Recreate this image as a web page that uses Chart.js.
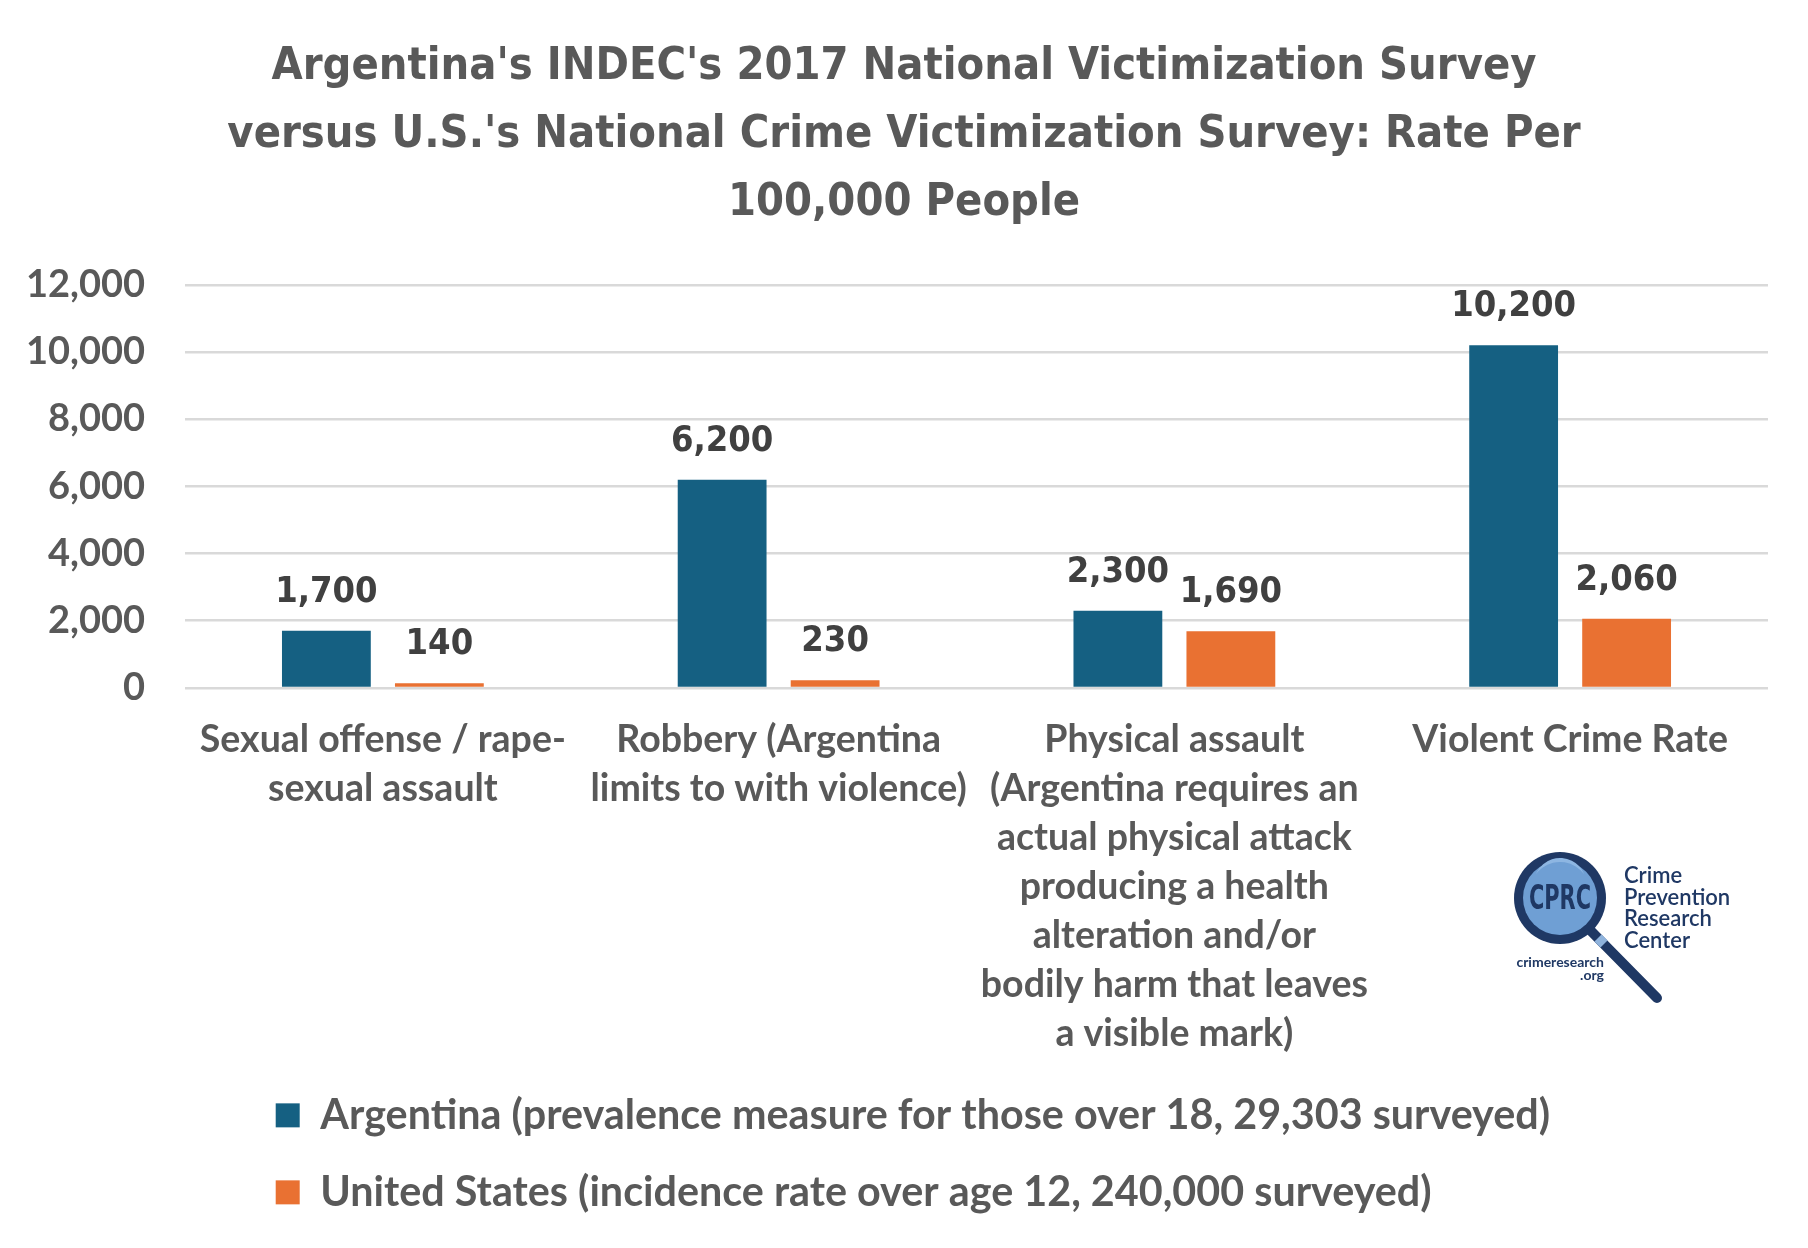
<!DOCTYPE html>
<html>
<head>
<meta charset="utf-8">
<script src="https://cdn.jsdelivr.net/npm/chart.js@4.4.1/dist/chart.umd.min.js"></script>
<style>
  html, body { margin: 0; padding: 0; background: #fff; }
  #wrap { width: 1808px; height: 1248px; position: relative; }
</style>
</head>
<body>
<div id="wrap"><canvas id="chart"></canvas></div>
<script>
// data
const categories = [
  ['Sexual offense / rape-', 'sexual assault'],
  ['Robbery (Argentina', 'limits to with violence)'],
  ['Physical assault', '(Argentina requires an', 'actual physical attack', 'producing a health', 'alteration and/or', 'bodily harm that leaves', 'a visible mark)'],
  ['Violent Crime Rate']
]
const argentina = [1700, 6200, 2300, 10200]
const unitedStates = [140, 230, 1690, 2060]
const seriesNames = [
  'Argentina (prevalence measure for those over 18, 29,303 surveyed)',
  'United States (incidence rate over age 12, 240,000 surveyed)'
]
const yTicks = [0, 2000, 4000, 6000, 8000, 10000, 12000]
const titleLines = [
  "Argentina's INDEC's 2017 National Victimization Survey",
  "versus U.S.'s National Crime Victimization Survey: Rate Per",
  '100,000 People'
]

// styles
const grey = '#595959'
const narrow = '"Liberation Sans Narrow", "DejaVu Sans Condensed", sans-serif'
const bodyFont = 'Lato, "Open Sans", sans-serif'
const navy = '#1f3864'

// value labels above bars
const barValueLabels = {
  id: 'barValueLabels',
  afterDatasetsDraw(chart) {
    const ctx = chart.ctx
    ctx.save()
    ctx.font = 'bold 36px ' + narrow
    ctx.fillStyle = '#404040'
    ctx.textAlign = 'center'
    ctx.textBaseline = 'alphabetic'
    chart.data.datasets.forEach((ds, i) => {
      chart.getDatasetMeta(i).data.forEach((bar, j) => {
        ctx.fillText(ds.data[j].toLocaleString('en-US'), bar.x, bar.y - 29)
      })
    })
    ctx.restore()
  }
}

// move the legend and title a bit, like the original layout
const blockShift = {
  id: 'blockShift',
  afterLayout(chart) {
    const lg = chart.legend
    lg.left += 240
    lg.right += 240
    lg.top -= 26
    lg.bottom -= 26
    const tb = chart.titleBlock
    tb.left += 20
    tb.right += 20
  }
}

// CPRC logo, bottom right
const cprcLogo = {
  id: 'cprcLogo',
  afterDraw(chart) {
    const ctx = chart.ctx
    const cx = 1560, cy = 898
    ctx.save()
    ctx.lineCap = 'round'
    ctx.strokeStyle = navy
    ctx.lineWidth = 10
    ctx.beginPath()
    ctx.moveTo(cx + 30, cy + 32)
    ctx.lineTo(cx + 97, cy + 100)
    ctx.stroke()
    ctx.lineCap = 'butt'
    ctx.strokeStyle = '#8fb3dc'
    ctx.beginPath()
    ctx.moveTo(cx + 38, cy + 40)
    ctx.lineTo(cx + 44, cy + 46)
    ctx.stroke()
    ctx.fillStyle = navy
    ctx.beginPath()
    ctx.arc(cx, cy, 46, 0, Math.PI * 2)
    ctx.fill()
    ctx.fillStyle = '#6f9fd4'
    ctx.beginPath()
    ctx.arc(cx, cy, 37, 0, Math.PI * 2)
    ctx.fill()
    ctx.fillStyle = '#8db6e2'
    ctx.beginPath()
    ctx.arc(cx, cy - 14, 26, Math.PI * 1.15, Math.PI * 1.85)
    ctx.arc(cx, cy - 6, 30, Math.PI * 1.8, Math.PI * 1.2, true)
    ctx.fill()
    ctx.fillStyle = navy
    ctx.textAlign = 'center'
    ctx.textBaseline = 'middle'
    ctx.font = 'bold 34px ' + narrow
    ctx.fillText('CPRC', cx, cy + 2, 62)
    ctx.textAlign = 'left'
    ctx.textBaseline = 'alphabetic'
    ctx.font = '600 22px ' + bodyFont
    ;['Crime', 'Prevention', 'Research', 'Center'].forEach((t, i) => {
      ctx.fillText(t, 1624, 883 + i * 21.5)
    })
    ctx.textAlign = 'right'
    ctx.font = 'bold 14px ' + bodyFont
    ctx.fillText('crimeresearch', 1604, 967)
    ctx.fillText('.org', 1604, 980)
    ctx.restore()
  }
}

const ctx = document.getElementById('chart').getContext('2d')

const chart = new Chart(ctx, {
  type: 'bar',
  data: {
    labels: categories,
    datasets: [
      { label: seriesNames[0], data: argentina, backgroundColor: '#156082' },
      { label: seriesNames[1], data: unitedStates, backgroundColor: '#e97132' }
    ]
  },
  options: {
    responsive: true,
    maintainAspectRatio: false,
    animation: false,
    layout: { padding: { left: 0, right: 40, top: 0, bottom: -1 } },
    datasets: {
      bar: { categoryPercentage: 0.571, barPercentage: 0.786 }
    },
    scales: {
      x: {
        grid: { display: false, drawTicks: false },
        border: { display: false },
        ticks: {
          color: grey,
          font: { family: bodyFont, weight: 'bold', size: 37.5, lineHeight: 1.307 },
          padding: 27,
          maxRotation: 0,
          autoSkip: false
        }
      },
      y: {
        min: yTicks[0],
        max: yTicks[yTicks.length - 1],
        afterFit(scale) { scale.width = 185 },
        grid: { color: '#d9d9d9', lineWidth: 2.5, drawTicks: false },
        border: { display: false },
        ticks: {
          stepSize: yTicks[1] - yTicks[0],
          color: grey,
          padding: 40,
          font: { family: bodyFont, weight: 'bold', size: 38 },
          callback: v => v.toLocaleString('en-US')
        }
      }
    },
    plugins: {
      title: {
        display: true,
        text: titleLines,
        color: grey,
        font: { family: narrow, weight: 'bold', size: 44.8, lineHeight: 1.52 },
        padding: { top: 33, bottom: 47.5 }
      },
      legend: {
        position: 'bottom',
        align: 'start',
        labels: {
          color: grey,
          boxWidth: 24,
          boxHeight: 24,
          padding: 35.7,
          font: { family: bodyFont, weight: 'bold', size: 41.3 }
        }
      },
      tooltip: { enabled: false }
    }
  },
  plugins: [barValueLabels, blockShift, cprcLogo]
})
</script>
</body>
</html>
